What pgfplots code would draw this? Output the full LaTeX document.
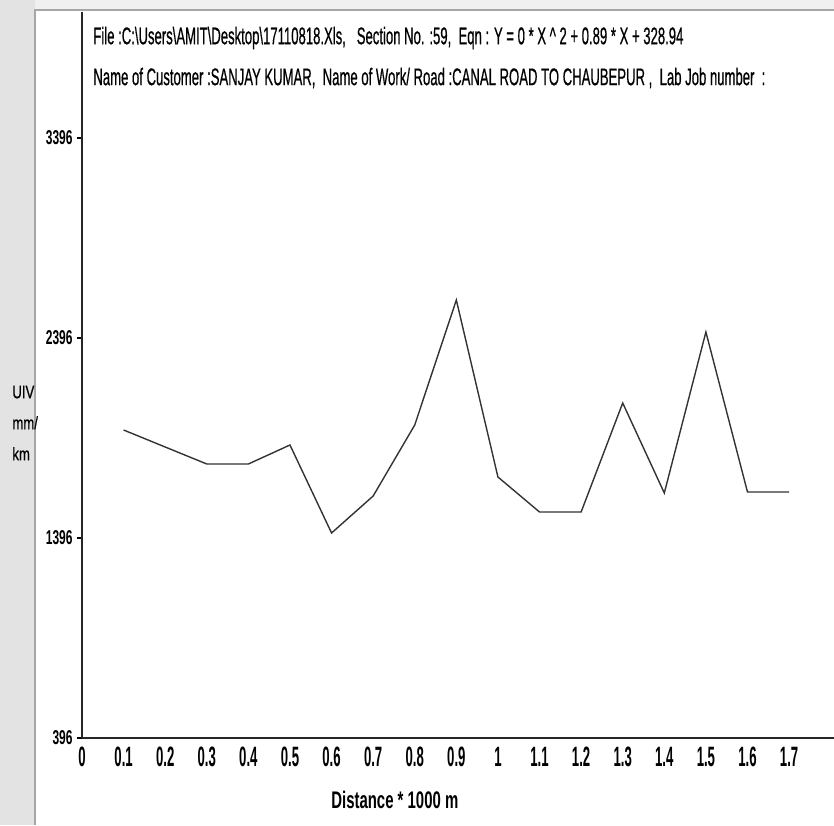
\documentclass[border=0pt]{standalone}
\usepackage{fontspec}
\setmainfont{Liberation Sans}
\newfontfamily\semibold{Liberation Sans}[FakeBold=0.8]
\usepackage{graphicx}
\usepackage{pgfplots}
\pgfplotsset{compat=1.18}
\newcommand{\yt}[1]{\scalebox{0.6}[1]{\fontsize{10}{10}\selectfont\bfseries #1}}
\newcommand{\xt}[1]{\scalebox{0.47}[1]{\fontsize{14}{14}\selectfont\bfseries #1}}
\pgfplotstableread{
x y
0.1 1936
0.2 1851
0.3 1766
0.4 1766
0.5 1861
0.6 1421
0.7 1606
0.8 1961
0.9 2586
1.0 1701
1.1 1526
1.2 1526
1.3 2071
1.4 1621
1.5 2426
1.6 1626
1.7 1626
}\uiv
\begin{document}
\begin{tikzpicture}
\useasboundingbox (-41pt,-43.5pt) rectangle (376pt,369pt);
\fill[gray!22] (-41pt,-43.5pt) rectangle (-23.5pt,369pt);
\fill[gray!12] (-23.5pt,364pt) rectangle (376pt,369pt);
\draw[gray!70, line width=0.8pt] (-23.5pt,-43.5pt) -- (-23.5pt,364pt) -- (376pt,364pt);
\begin{axis}[
  at={(0pt,0pt)}, anchor=south west,
  scale only axis, width=376pt, height=363pt,
  xmin=0, xmax=1.808, ymin=396, ymax=4026,
  axis x line*=bottom, axis y line*=left,
  axis line style={-, line width=0.7pt, black!85},
  xtick={0,0.1,0.2,0.3,0.4,0.5,0.6,0.7,0.8,0.9,1.0,1.1,1.2,1.3,1.4,1.5,1.6,1.7},
  xticklabels={\xt{0},\xt{0.1},\xt{0.2},\xt{0.3},\xt{0.4},\xt{0.5},\xt{0.6},\xt{0.7},\xt{0.8},\xt{0.9},\xt{1},\xt{1.1},\xt{1.2},\xt{1.3},\xt{1.4},\xt{1.5},\xt{1.6},\xt{1.7}},
  xtick style={draw=none},
  xticklabel style={anchor=north, inner sep=1pt, yshift=-1pt},
  ytick={396,1396,2396,3396},
  yticklabels={\yt{396},\yt{1396},\yt{2396},\yt{3396}},
  tick align=outside,
  ytick style={line width=0.6pt, black},
  major tick length=2.5pt,
  yticklabel style={anchor=east, inner sep=1pt, xshift=-1pt},
  xlabel={\resizebox{63.5pt}{\height}{\fontsize{12}{12}\selectfont\bfseries Distance * 1000 m}},
  xlabel style={at={(axis description cs:0.416,-0.0854)}, anchor=center, inner sep=0pt},
  clip=false,
]
\addplot[black!80, line width=0.7pt] table[x=x, y=y] {\uiv};
\end{axis}
\node[anchor=west, inner sep=0pt] at (5.5pt,350pt) {\resizebox{295pt}{\height}{\semibold\fontsize{12}{12}\selectfont File :C:\textbackslash Users\textbackslash AMIT\textbackslash Desktop\textbackslash 17110818.Xls,\ \ \ Section No. :59,\ \ Eqn : Y = 0 * X \textasciicircum\ 2 + 0.89 * X + 328.94}};
\node[anchor=west, inner sep=0pt] at (5.5pt,330pt) {\resizebox{336pt}{\height}{\semibold\fontsize{12}{12}\selectfont Name of Customer :SANJAY KUMAR,\ \ Name of Work/ Road :CANAL ROAD TO CHAUBEPUR ,\ \ Lab Job number\ \ :}};
\node[anchor=west, align=left, inner sep=0pt, font=\semibold\fontsize{9}{15.5}\selectfont] at (-35pt,157.5pt) {\scalebox{0.73}[1]{UIV}\\\scalebox{0.73}[1]{mm/}\\\scalebox{0.73}[1]{km}};
\end{tikzpicture}
\end{document}
